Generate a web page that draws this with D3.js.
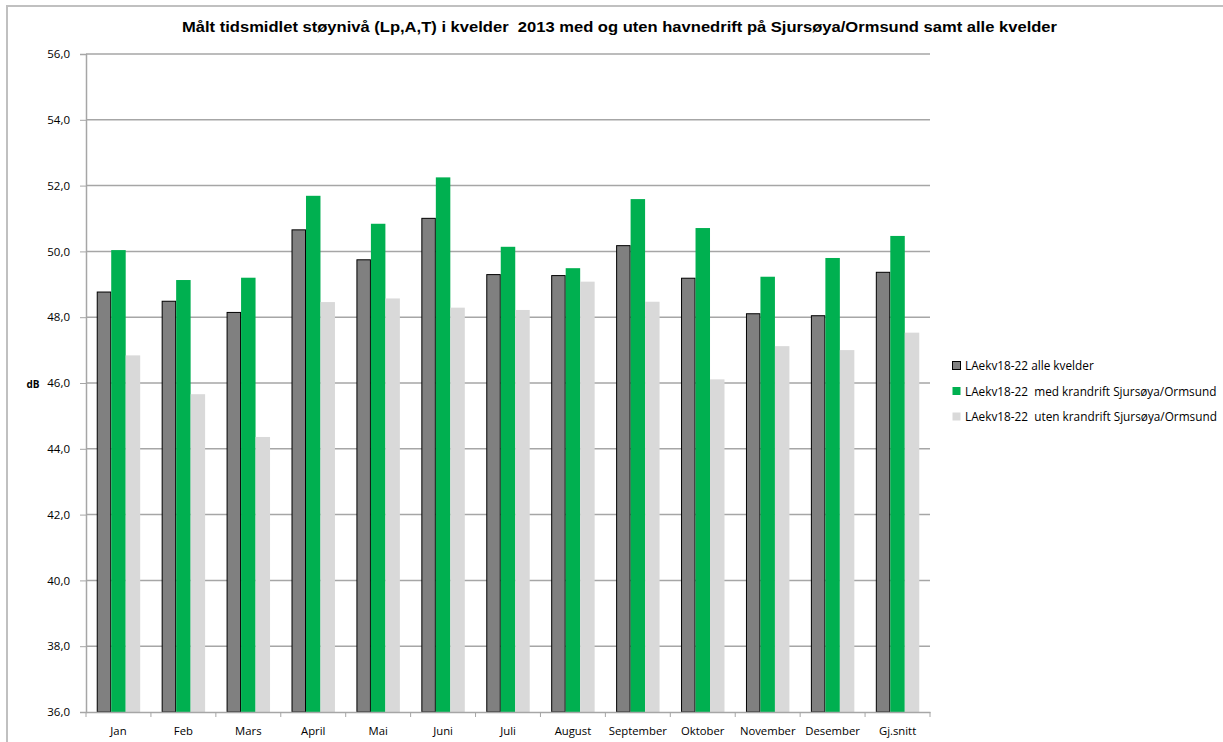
<!DOCTYPE html>
<html><head><meta charset="utf-8">
<script src="https://cdn.jsdelivr.net/npm/d3@7"></script>
<style>body{margin:0;background:#fff}svg{display:block}text{white-space:pre}</style>
</head><body>
<svg id="c" width="1223" height="742"></svg>
<script>
const categories = ["Jan","Feb","Mars","April","Mai","Juni","Juli","August","September","Oktober","November","Desember","Gj.snitt"];
const alleKvelder = [48.78,48.50,48.16,50.67,49.76,51.02,49.31,49.28,50.19,49.20,48.12,48.06,49.38];
const medKrandrift = [50.04,49.13,49.20,51.69,50.84,52.25,50.14,49.49,51.59,50.71,49.23,49.80,50.47];
const utenKrandrift = [46.84,45.66,44.36,48.46,48.57,48.29,48.22,49.08,48.47,46.11,47.12,47.00,47.53];
const seriesNames = ["LAekv18-22 alle kvelder","LAekv18-22  med krandrift Sjursøya/Ormsund","LAekv18-22  uten krandrift Sjursøya/Ormsund"];
const yTicks = [36,38,40,42,44,46,48,50,52,54,56];
const title = "Målt tidsmidlet støynivå (Lp,A,T) i kvelder  2013 med og uten havnedrift på Sjursøya/Ormsund samt alle kvelder";

(function(){
const colors = ["#808080","#00b050","#d9d9d9"];
const strokes = ["#000","none","none"];
const svg = d3.select("#c");
const font = "'Open Sans', 'DejaVu Sans', sans-serif";

svg.append("rect").attr("x",7).attr("y",6).attr("width",1230).attr("height",760)
  .attr("fill","none").attr("stroke","#c0c0c0").attr("stroke-width",2);

const pL=86, pR=930, pT=54, pB=712;
const x = d3.scaleBand().domain(categories).range([pL,pR]).paddingInner(0).paddingOuter(0);
const y = d3.scaleLinear().domain([36,56]).range([pB,pT]);
const groupW = x.bandwidth()*43.5/65;
const xs = d3.scaleBand().domain([0,1,2]).range([(x.bandwidth()-groupW)/2,(x.bandwidth()+groupW)/2]);

svg.append("g").selectAll("line").data(yTicks.filter(d=>d>36)).join("line")
  .attr("x1",pL).attr("x2",pR).attr("y1",d=>y(d)).attr("y2",d=>y(d))
  .attr("stroke","#a6a6a6").attr("stroke-width",1.5);

const yAxis = d3.axisLeft(y).tickValues(yTicks).tickSize(6).tickPadding(10)
  .tickFormat(d=>d3.format(".1f")(d).replace(".",","));
const gy = svg.append("g").attr("transform",`translate(${pL},0)`).call(yAxis);
gy.select(".domain").attr("stroke","#a6a6a6").attr("stroke-width",1.5);
gy.selectAll(".tick line").attr("stroke","#a6a6a6");
gy.selectAll("text").attr("font-family",font).attr("font-size",11.5).attr("fill","#000");

svg.append("text").attr("x",33).attr("y",388).attr("text-anchor","middle")
  .attr("font-family",font).attr("font-size",10).attr("font-weight","bold").text("dB");

const data = [alleKvelder, medKrandrift, utenKrandrift];
data.forEach((vals,si)=>{
  svg.append("g").selectAll("rect").data(vals).join("rect")
    .attr("x",(d,i)=>x(categories[i])+xs(si)+(si===0?0.5:0))
    .attr("y",d=>y(d)+(si===0?0.5:0))
    .attr("width",xs.bandwidth()-(si===0?1:0))
    .attr("height",d=>pB-y(d)-(si===0?0.5:0))
    .attr("fill",colors[si]).attr("stroke",strokes[si]).attr("stroke-width",1);
});

const xAxis = d3.axisBottom(x).tickSize(0).tickPadding(15);
const gx = svg.append("g").attr("transform",`translate(0,${pB})`).call(xAxis);
gx.select(".domain").attr("stroke","#a6a6a6").attr("stroke-width",1.5);
gx.selectAll("text").attr("font-family",font).attr("font-size",11.3).attr("fill","#000");
const bounds = categories.map(c=>x(c)).concat([pR]);
svg.append("g").selectAll("line").data(bounds).join("line")
  .attr("x1",d=>d).attr("x2",d=>d).attr("y1",pB).attr("y2",pB+5)
  .attr("stroke","#a6a6a6").attr("stroke-width",1);

svg.append("text").attr("x",182).attr("y",32)
  .attr("font-family","'Liberation Sans', Arial, sans-serif").attr("font-size",15).attr("font-weight","bold")
  .attr("textLength",875).attr("lengthAdjust","spacingAndGlyphs")
  .text(title);

const lg = svg.append("g").attr("transform","translate(952,366)");
seriesNames.forEach((n,i)=>{
  const g = lg.append("g").attr("transform",`translate(0,${i*25.5})`);
  g.append("rect").attr("x",0.5).attr("y",-4.5).attr("width",8).attr("height",8)
    .attr("fill",colors[i]).attr("stroke",i===0?"#000":"none");
  g.append("text").attr("x",13).attr("y",4).attr("font-family",font).attr("font-size",11.8).text(n);
});
})();
</script>
</body></html>
